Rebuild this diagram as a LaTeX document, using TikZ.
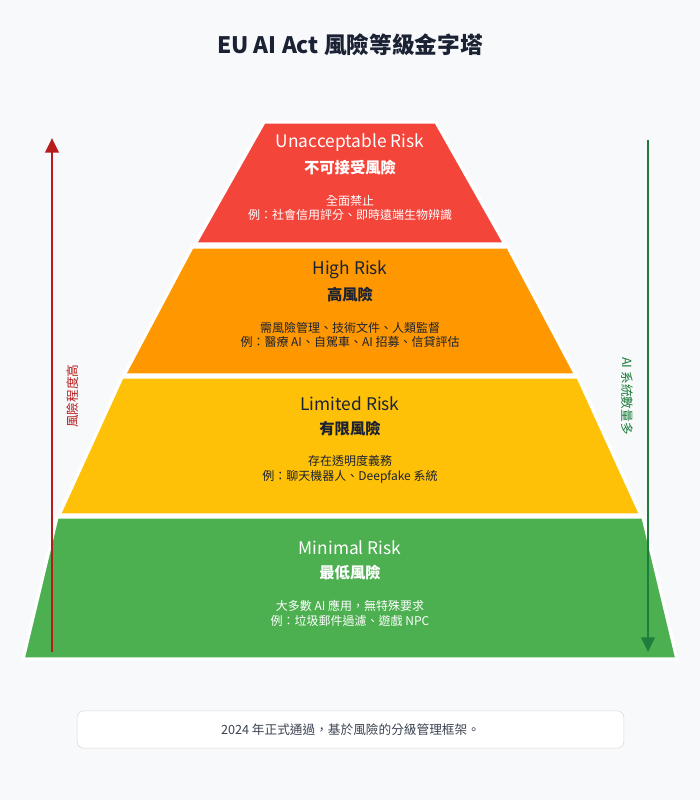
\documentclass[tikz,border=0pt]{standalone}
\usepackage{fontspec}
\setmainfont{Noto Sans CJK TC}
\usetikzlibrary{arrows.meta}
\definecolor{bgc}{HTML}{F8F9FB}
\definecolor{riskred}{HTML}{F4453B}
\definecolor{riskorange}{HTML}{FF9800}
\definecolor{riskyellow}{HTML}{FFC107}
\definecolor{riskgreen}{HTML}{4CAF50}
\definecolor{darkred}{HTML}{B71C1C}
\definecolor{darkgreen}{HTML}{1E7D3C}
\definecolor{inktext}{HTML}{1A2233}
\tikzset{
  tier/.style={draw=white,line width=2.5pt,line join=miter},
  riskname/.style={font=\fontsize{13}{15}\selectfont},
  riskzh/.style={font=\fontsize{11.5}{14}\selectfont\bfseries},
  riskinfo/.style={font=\fontsize{9}{11}\selectfont,align=center},
  sidelabel/.style={font=\fontsize{9.5}{11}\selectfont}
}
\begin{document}
\begin{tikzpicture}[x=0.75pt,y=-0.75pt]
	\fill[bgc] (0,0) rectangle (700,800);
	\useasboundingbox (0,0) rectangle (700,800);
	%title
	\node[text=inktext,font=\fontsize{17}{20}\selectfont\bfseries] (title) at (350,45) {EU AI Act 風險等級金字塔};

	%pyramid tiers
	\filldraw[tier,fill=riskred] (264,122) -- (436,122) -- (505,244) -- (195,244) -- cycle;
	\filldraw[tier,fill=riskorange] (192,247) -- (508,247) -- (576,375) -- (124,375) -- cycle;
	\filldraw[tier,fill=riskyellow] (122,377) -- (578,377) -- (641,515) -- (59,515) -- cycle;
	\filldraw[tier,fill=riskgreen] (57,517) -- (643,517) -- (677,659) -- (23,659) -- cycle;

	%tier texts
	\node[riskname,text=white] (unacc) at (350,143) {Unacceptable Risk};
	\node[riskzh,text=white] (unacczh) at (350,168) {不可接受風險};
	\node[riskinfo,text=white] (unaccinfo) at (350,208) {全面禁止\\例：社會信用評分、即時遠端生物辨識};

	\node[riskname,text=inktext] (high) at (350,270) {High Risk};
	\node[riskzh,text=inktext] (highzh) at (350,295) {高風險};
	\node[riskinfo,text=inktext] (highinfo) at (350,335) {需風險管理、技術文件、人類監督\\例：醫療 AI、自駕車、AI 招募、信貸評估};

	\node[riskname,text=inktext] (limited) at (350,404) {Limited Risk};
	\node[riskzh,text=inktext] (limitedzh) at (350,429) {有限風險};
	\node[riskinfo,text=inktext] (limitedinfo) at (350,469) {存在透明度義務\\例：聊天機器人、Deepfake 系統};

	\node[riskname,text=white] (minimal) at (350,548) {Minimal Risk};
	\node[riskzh,text=white] (minimalzh) at (350,573) {最低風險};
	\node[riskinfo,text=white] (minimalinfo) at (350,613) {大多數 AI 應用，無特殊要求\\例：垃圾郵件過濾、遊戲 NPC};

	%side arrows
	\coordinate (rbot) at (52,652);
	\coordinate (rtop) at (52,138);
	\coordinate (gtop) at (648,140);
	\coordinate (gbot) at (648,652);
	\draw[darkred,line width=2.2pt,-{Triangle[length=11pt,width=10pt]}] (rbot) -- (rtop);
	\draw[darkgreen,line width=2.2pt,-{Triangle[length=11pt,width=10pt]}] (gtop) -- (gbot);
	\node[sidelabel,text=darkred,rotate=90] (upl) at (73,396) {風險程度高};
	\node[sidelabel,text=darkgreen,rotate=-90] (downl) at (627,396) {AI 系統數量多};

	%footer note
	\node[draw=black!15,fill=white,rounded corners=5pt,minimum width=410pt,minimum height=28pt,
		text=inktext!85,font=\fontsize{9.5}{11}\selectfont] (note) at (350.5,729.5) {2024 年正式通過，基於風險的分級管理框架。};
\end{tikzpicture}
\end{document}
